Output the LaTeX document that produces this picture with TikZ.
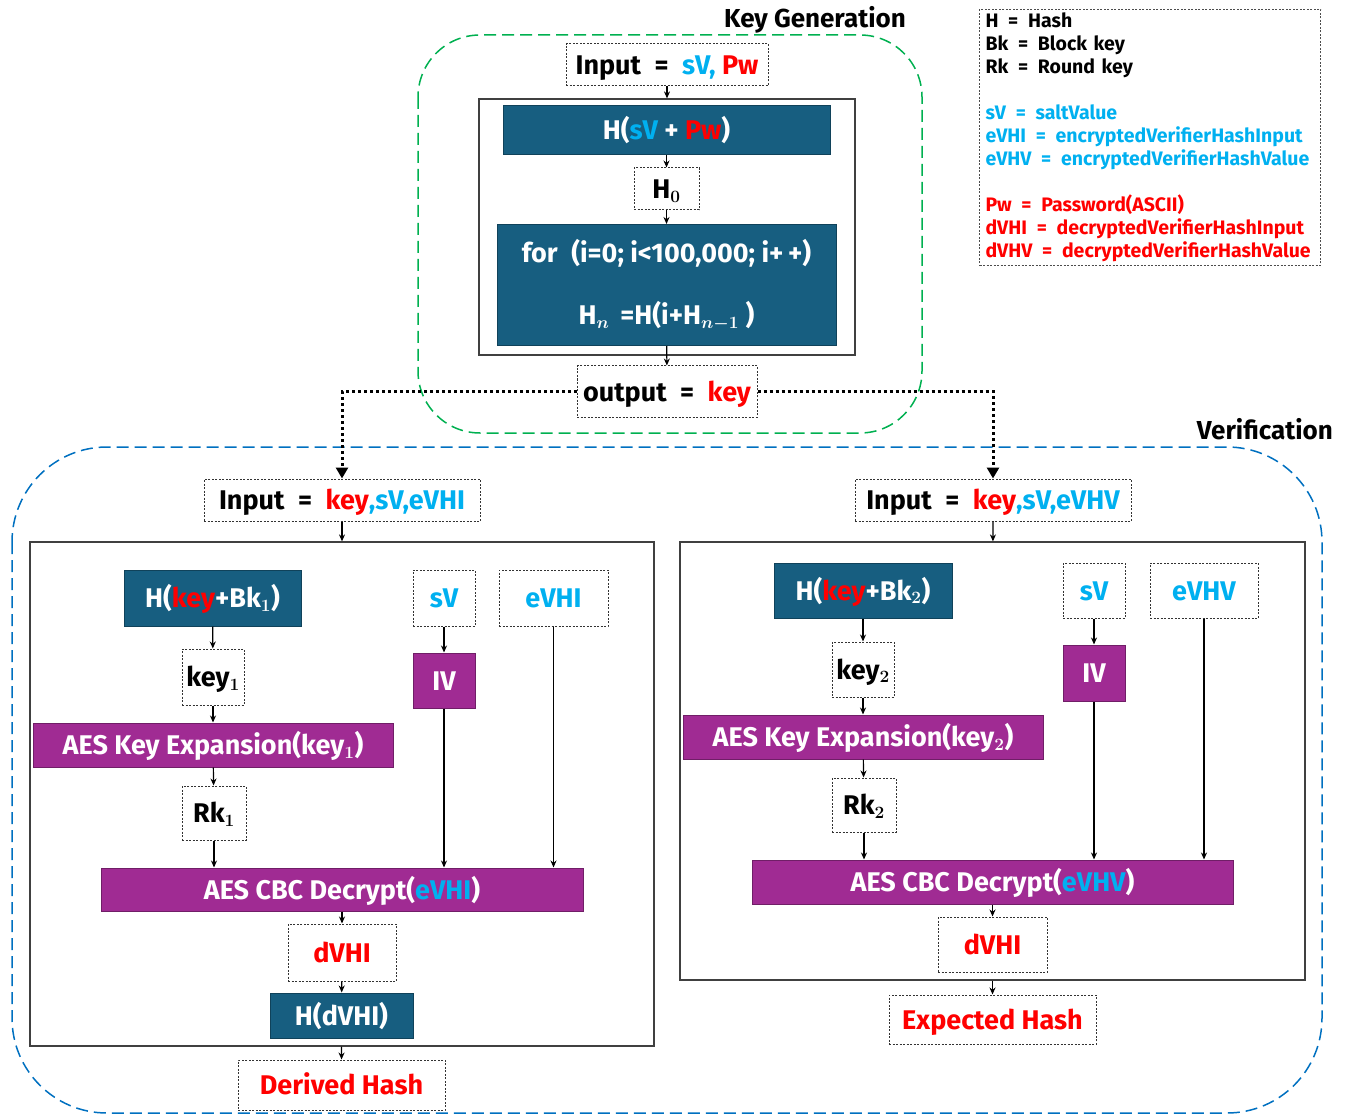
\documentclass[tikz,border=0pt]{standalone}
\usepackage{fontspec}
\setmainfont{Fira Sans}
\usetikzlibrary{positioning,arrows.meta}

\definecolor{hashblue}{RGB}{23,94,128}
\definecolor{aespurple}{RGB}{160,43,147}
\definecolor{skyc}{RGB}{0,176,240}
\definecolor{pwred}{RGB}{255,0,0}
\definecolor{kgreen}{RGB}{0,176,80}
\definecolor{vblue}{RGB}{0,112,192}

\begin{document}
\begin{tikzpicture}[x=1pt,y=-1pt]
        \useasboundingbox (0,0) rectangle (1350,1115);
        \tikzstyle{every node} = [inner sep=0pt, text height=23.5pt, text depth=4.5pt, font=\fontsize{27}{32}\selectfont\bfseries\boldmath]
        \tikzstyle{hashbox} = [draw=hashblue!70!black, fill=hashblue, text=white, line width=1pt]
        \tikzstyle{aesbox} = [draw=aespurple!70!black, fill=aespurple, text=white, line width=1pt]
        \tikzstyle{valbox} = [draw=black!80, dash pattern=on 2pt off 1.5pt, line width=1pt]
        \tikzstyle{bodybox} = [draw=black!75, line width=1.2pt]
        \tikzstyle{arr} = [-{Stealth[length=7pt,width=6pt]}, line width=1.2pt]
        \tikzstyle{keyline} = [dash pattern=on 3pt off 3pt, line width=3pt, -{Triangle[length=11pt,width=12pt]}]
        \tikzstyle{title} = [anchor=east, font=\fontsize{26}{30}\selectfont\bfseries]
        % frames
        \draw[kgreen, line width=1.5pt, dash pattern=on 12pt off 6pt, rounded corners=62pt] (418,35) rectangle (922,433);
        \draw[vblue, line width=1.5pt, dash pattern=on 12pt off 6pt, rounded corners=95pt] (12,447) rectangle (1322,1113);
        \node[title] (kgtitle) at (906,18) {Key Generation};
        \node[title] (vtitle) at (1333,430) {Verification};
        % key generation
        \node[valbox, minimum width=202pt, minimum height=42pt] (kin) at (667,65) {Input\enspace=\enspace\textcolor{skyc}{sV,} \textcolor{pwred}{Pw}};
        \node[bodybox, minimum width=376pt, minimum height=256pt] (kgbody) at (667,227) {};
        \node[hashbox, minimum width=327pt, minimum height=49pt] (khash) at (666.5,130.5) {H(\textcolor{skyc}{sV} + \textcolor{pwred}{Pw})};
        \node[valbox, minimum width=65pt, minimum height=42pt] (kh0) at (666.5,189) {H$_{\mathbf{0}}$};
        \node[hashbox, minimum width=339pt, minimum height=121pt, text height={}, text depth={}, align=center] (kloop) at (666.5,285)
            {for\enspace(i=0; i<100,000; i+\,+)\\[30pt] H$_{n}$ \,=H(i+H$_{n-1}$ )};
        \node[valbox, minimum width=180pt, minimum height=51pt] (kout) at (667,391.5) {output\enspace=\enspace\textcolor{pwred}{key}};
        \draw[arr] (kin) -- (kgbody);
        \draw[arr] (khash) -- (kh0);
        \draw[arr] (kh0) -- (kloop);
        \draw[arr] (kloop) -- (kout);
        % left branch
        \node[valbox, minimum width=276pt, minimum height=42pt] (lin) at (342,500) {Input\enspace=\enspace\textcolor{pwred}{key}\textcolor{skyc}{,sV,eVHI}};
        \node[bodybox, minimum width=624pt, minimum height=504pt] (lbody) at (342,794) {};
        \node[hashbox, minimum width=177pt, minimum height=56pt] (lhk) at (212.5,598) {H(\textcolor{pwred}{key}+Bk$_{\mathbf{1}}$)};
        \node[valbox, minimum width=62pt, minimum height=56pt] (lk1) at (213,677) {key$_{\mathbf{1}}$};
        \node[aesbox, minimum width=360pt, minimum height=44pt] (lke) at (213,745) {AES Key Expansion(key$_{\mathbf{1}}$)};
        \node[valbox, minimum width=64pt, minimum height=54pt] (lrk) at (214,813) {Rk$_{\mathbf{1}}$};
        \node[valbox, minimum width=62pt, minimum height=56pt, text=skyc] (lsv) at (444,598) {sV};
        \node[aesbox, minimum width=62pt, minimum height=55pt] (liv) at (444,680.5) {IV};
        \node[valbox, minimum width=109pt, minimum height=56pt, text=skyc] (lev) at (553.5,598) {eVHI};
        \node[aesbox, minimum width=482pt, minimum height=43pt] (lcbc) at (342,889.5) {AES CBC Decrypt(\textcolor{skyc}{eVHI})};
        \node[valbox, minimum width=108pt, minimum height=57pt, text=pwred] (ldv) at (342,952.5) {dVHI};
        \node[hashbox, minimum width=143pt, minimum height=45pt] (lhd) at (341.5,1015.5) {H(dVHI)};
        \node[valbox, minimum width=207pt, minimum height=50pt, text=pwred] (lout) at (341.5,1085) {Derived Hash};
        \draw[arr] (lin) -- (lbody);
        \draw[arr] (lhk) -- (lk1);
        \draw[arr] (lk1) -- (lke);
        \draw[arr] (lke) -- (lrk);
        \draw[arr] (lrk) -- (lrk |- lcbc.north);
        \draw[arr] (lsv) -- (liv);
        \draw[arr] (liv) -- (liv |- lcbc.north);
        \draw[arr] (lev) -- (lev |- lcbc.north);
        \draw[arr] (lcbc) -- (ldv);
        \draw[arr] (ldv) -- (lhd);
        \draw[arr] (lbody) -- (lout);
        % right branch
        \node[valbox, minimum width=276pt, minimum height=42pt] (rin) at (993,500) {Input\enspace=\enspace\textcolor{pwred}{key}\textcolor{skyc}{,sV,eVHV}};
        \node[bodybox, minimum width=625pt, minimum height=438pt] (rbody) at (992.5,761) {};
        \node[hashbox, minimum width=178pt, minimum height=55pt] (rhk) at (863,590.5) {H(\textcolor{pwred}{key}+Bk$_{\mathbf{2}}$)};
        \node[valbox, minimum width=62pt, minimum height=55pt] (rk2) at (863,669.5) {key$_{\mathbf{2}}$};
        \node[aesbox, minimum width=360pt, minimum height=44pt] (rke) at (863,737) {AES Key Expansion(key$_{\mathbf{2}}$)};
        \node[valbox, minimum width=64pt, minimum height=54pt] (rrk) at (864,805) {Rk$_{\mathbf{2}}$};
        \node[valbox, minimum width=62pt, minimum height=55pt, text=skyc] (rsv) at (1094,590.5) {sV};
        \node[aesbox, minimum width=62pt, minimum height=56pt] (riv) at (1094,673) {IV};
        \node[valbox, minimum width=108pt, minimum height=55pt, text=skyc] (rev) at (1204,590.5) {eVHV};
        \node[aesbox, minimum width=481pt, minimum height=44pt] (rcbc) at (992.5,882) {AES CBC Decrypt(\textcolor{skyc}{eVHV})};
        \node[valbox, minimum width=109pt, minimum height=55pt, text=pwred] (rdv) at (992.5,944.5) {dVHI};
        \node[valbox, minimum width=207pt, minimum height=49pt, text=pwred] (rout) at (992.5,1019.5) {Expected Hash};
        \draw[arr] (rin) -- (rbody);
        \draw[arr] (rhk) -- (rk2);
        \draw[arr] (rk2) -- (rke);
        \draw[arr] (rke) -- (rrk);
        \draw[arr] (rrk) -- (rrk |- rcbc.north);
        \draw[arr] (rsv) -- (riv);
        \draw[arr] (riv) -- (riv |- rcbc.north);
        \draw[arr] (rev) -- (rev |- rcbc.north);
        \draw[arr] (rcbc) -- (rdv);
        \draw[arr] (rbody) -- (rout);
        % key to both branches
        \draw[keyline] (kout) -| (lin);
        \draw[keyline] (kout) -| (rin);
        % legend
        \node[draw=black!70, dash pattern=on 2pt off 1.5pt, line width=1pt, anchor=north west, text width=329pt,
              text height={}, text depth={}, inner xsep=6pt, minimum height=256pt, align=left,
              font=\fontsize{19.5}{23}\selectfont\bfseries] (legend) at (979,9)
            {H\enspace=\enspace Hash\\ Bk\enspace=\enspace Block key\\ Rk\enspace=\enspace Round key\\[23pt]
             \textcolor{skyc}{sV\enspace=\enspace saltValue}\\ \textcolor{skyc}{eVHI\enspace=\enspace encryptedVerifierHashInput}\\ \textcolor{skyc}{eVHV\enspace=\enspace encryptedVerifierHashValue}\\[23pt]
             \textcolor{pwred}{Pw\enspace=\enspace Password(ASCII)}\\ \textcolor{pwred}{dVHI\enspace=\enspace decryptedVerifierHashInput}\\ \textcolor{pwred}{dVHV\enspace=\enspace decryptedVerifierHashValue}};
\end{tikzpicture}
\end{document}
